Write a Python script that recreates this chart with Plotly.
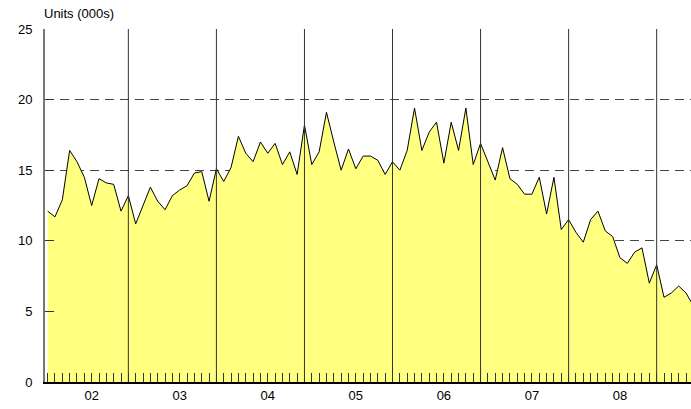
import plotly.graph_objects as go

# Monthly values (thousands of units), Feb 2002 .. Jun 2009
values = [
    12.1, 11.7, 12.9, 16.4, 15.6, 14.5, 12.5, 14.4, 14.1, 14.0, 12.1,          # Feb-Dec 2002
    13.2, 11.2, 12.5, 13.8, 12.8, 12.2, 13.2, 13.6, 13.9, 14.8, 14.9, 12.8,    # 2003
    15.1, 14.2, 15.2, 17.4, 16.2, 15.6, 17.0, 16.2, 16.9, 15.4, 16.3, 14.7,    # 2004
    18.2, 15.4, 16.3, 19.1, 17.0, 15.0, 16.5, 15.1, 16.0, 16.0, 15.7, 14.7,    # 2005
    15.6, 15.0, 16.4, 19.4, 16.4, 17.7, 18.4, 15.5, 18.4, 16.4, 19.4, 15.4,    # 2006
    16.9, 15.6, 14.3, 16.6, 14.4, 14.0, 13.3, 13.3, 14.5, 11.9, 14.5, 10.8,    # 2007
    11.5, 10.6, 9.9, 11.5, 12.1, 10.7, 10.3, 8.8, 8.4, 9.2, 9.5, 7.0,         # 2008
    8.3, 6.0, 6.3, 6.8, 6.3, 5.4,                                              # 2009
]
first_month = 1          # month index counted from Jan 2002 = 0
year_labels = ["02", "03", "04", "05", "06", "07", "08"]
y_ticks = [0, 5, 10, 15, 20, 25]

x = [first_month + i for i in range(len(values))]
year_starts = [12 * (k + 1) for k in range(len(year_labels))]
label_pos = [12 * k + 7 for k in range(len(year_labels))]

tickvals = list(range(1, 89))
ticktext = [year_labels[label_pos.index(v)] if v in label_pos else "" for v in tickvals]

fig = go.Figure()
fig.add_trace(go.Scatter(
    x=x, y=values, mode="lines", fill="tozeroy",
    fillcolor="#FFFF80", line=dict(color="black", width=1),
    hoverinfo="skip", showlegend=False,
))

for ys in year_starts:
    fig.add_shape(type="line", xref="x", yref="paper", x0=ys, x1=ys, y0=0, y1=1,
                  line=dict(color="#333333", width=1), layer="above")

fig.update_layout(
    width=691, height=409,
    margin=dict(l=45, r=0, t=29, b=27),
    paper_bgcolor="white", plot_bgcolor="white",
    font=dict(family="Liberation Sans, Arial, sans-serif", size=13, color="black"),
    xaxis=dict(
        range=[0.64, 88.68], tickmode="array", tickvals=tickvals, ticktext=ticktext,
        ticks="inside", ticklen=9, tickwidth=1, tickcolor="#333333",
        showgrid=False, zeroline=False, showline=True, linecolor="black", linewidth=2,
        layer="above traces", tickfont=dict(size=13),
    ),
    yaxis=dict(
        range=[0, 25], tickmode="array", tickvals=y_ticks,
        ticks="inside", ticklen=9, tickwidth=1, tickcolor="#333333",
        showgrid=True, gridcolor="#444444", gridwidth=1, griddash="9px,6px",
        zeroline=False, showline=True, linecolor="#777777", linewidth=2,
        layer="above traces", tickfont=dict(size=13), ticklabelstandoff=8,
    ),
    annotations=[dict(
        text="Units (000s)", xref="paper", yref="paper", x=0, y=1, yshift=6,
        xanchor="left", yanchor="bottom", showarrow=False, xshift=-3,
        font=dict(size=13, color="black"),
    )],
)

fig.write_html("out.html", config={"displayModeBar": False},
               post_script="document.body.style.margin='0';document.body.style.overflow='hidden';")
